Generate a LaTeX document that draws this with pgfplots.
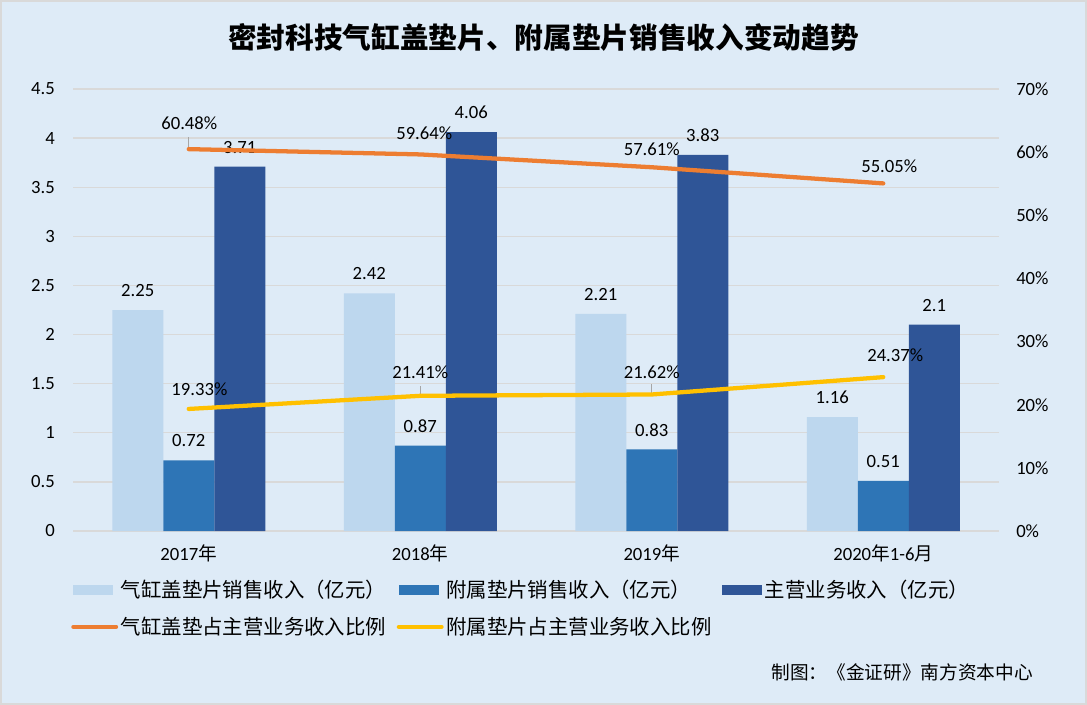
\documentclass[border=0pt]{standalone}
\usepackage{pgfplots}
\pgfplotsset{compat=1.18}
\usepackage{fontspec}
\setmainfont{Carlito}
\newfontfamily\cjk{Noto Sans CJK SC}
\definecolor{bg}{HTML}{DEEBF7}
\definecolor{bd}{HTML}{D9D9D9}
\definecolor{c1}{HTML}{BDD7EE}
\definecolor{c2}{HTML}{2E75B6}
\definecolor{c3}{HTML}{2F5597}
\definecolor{co}{HTML}{ED7D31}
\definecolor{cy}{HTML}{FFC000}
\newcommand\fs{\fontsize{14pt}{16pt}\selectfont}
\pgfplotsset{
  barlegend/.style={legend image code/.code={\fill[##1] (0pt,-3.75pt) rectangle (30pt,3.75pt);}},
  linelegend/.style={legend image code/.code={\draw[##1,line cap=round] (0pt,0pt) -- (32pt,0pt);}},
}
\begin{document}
\begin{tikzpicture}
\path[use as bounding box] (0,0) rectangle (815.25pt,-528.75pt);
\fill[bg] (0,0) rectangle (815.25pt,-528.75pt);
\draw[bd, line width=1.5pt] (0.75pt,-0.75pt) rectangle (814.5pt,-528pt);
\node[font=\cjk\bfseries\fontsize{21.5pt}{24pt}\selectfont] at (407.6pt,-28.5pt) {密封科技气缸盖垫片、附属垫片销售收入变动趋势};
\node[anchor=east, inner sep=0pt, font=\cjk\fontsize{14pt}{16pt}\selectfont] at (774.75pt,-504pt) {制图：《金证研》南方资本中心};

\begin{axis}[at={(54.75pt,-398.25pt)}, anchor=south west,
  width=694.5pt, height=331.5pt, scale only axis,
  xmin=-0.5, xmax=3.5, ymin=0, ymax=4.5,
  ybar=0pt, bar width=38.25pt,
  xtick={0,1,2,3},
  xticklabels={2017{\cjk 年},2018{\cjk 年},2019{\cjk 年},2020{\cjk 年}1-6{\cjk 月}},
  ytick={0,0.5,1,1.5,2,2.5,3,3.5,4,4.5},
  yticklabels={0,0.5,1,1.5,2,2.5,3,3.5,4,4.5},
  ymajorgrids, grid style={bd, line width=1pt},
  axis line style={draw=none}, major tick length=0pt,
  tick label style={font=\fs, text=black},
  yticklabel style={anchor=east, inner sep=0pt, xshift=-13.5pt},
  xticklabel style={anchor=center, inner sep=0pt, yshift=-16.5pt},
  nodes near coords, point meta=explicit symbolic,
  every node near coord/.append style={font=\fs, text=black, anchor=center, yshift=14.6pt, inner sep=0pt},
]
\addplot[fill=c1, draw=none] coordinates {(0,2.25)[2.25] (1,2.42)[2.42] (2,2.21)[2.21] (3,1.16)[1.16]};
\addplot[fill=c2, draw=none] coordinates {(0,0.72)[0.72] (1,0.87)[0.87] (2,0.83)[0.83] (3,0.51)[0.51]};
\addplot[fill=c3, draw=none] coordinates {(0,3.71)[3.71] (1,4.06)[4.06] (2,3.83)[3.83] (3,2.10)[2.1]};
\end{axis}

\begin{axis}[at={(54.75pt,-398.25pt)}, anchor=south west,
  width=694.5pt, height=331.5pt, scale only axis,
  xmin=-0.5, xmax=3.5, ymin=0, ymax=0.7,
  axis y line*=right, axis x line=none,
  ytick={0,0.1,0.2,0.3,0.4,0.5,0.6,0.7},
  yticklabels={0\%,10\%,20\%,30\%,40\%,50\%,60\%,70\%},
  axis line style={draw=none}, major tick length=0pt,
  tick label style={font=\fs, text=black},
  yticklabel style={anchor=west, inner sep=0pt, xshift=12.75pt},
  legend style={at={(axis description cs:0,0)}, anchor=north west,
    xshift=-1.5pt, yshift=-34.6pt, draw=none, fill=none, inner sep=0pt,
    font=\cjk\fontsize{15.3pt}{17pt}\selectfont, text=black,
    nodes={inner sep=2pt}, row sep=9.2pt,
    /tikz/every even column/.append style={column sep=6pt}},
  legend columns=3, legend cell align=left,
]
\addlegendimage{barlegend, fill=c1, draw=none}
\addlegendentry{气缸盖垫片销售收入（亿元）}
\addlegendimage{barlegend, fill=c2, draw=none}
\addlegendentry{附属垫片销售收入（亿元）}
\addlegendimage{barlegend, fill=c3, draw=none}
\addlegendentry{主营业务收入（亿元）}

\addplot[draw=none, mark=none, forget plot,
  error bars/.cd, y dir=plus, y explicit, error mark=none,
  error bar style={draw=black!35, line width=0.75pt}]
  coordinates {(0,0.6048) +- (0,0.019) (1,0.2141) +- (0,0.016) (2,0.2162) +- (0,0.016)};

\addplot[co, line width=3.2pt, line cap=round, line join=round, mark=none, linelegend,
  nodes near coords={\pgfplotspointmeta\%}, point meta=explicit symbolic,
  visualization depends on={\thisrow{dx} \as \dx},
  visualization depends on={\thisrow{dy} \as \dy},
  every node near coord/.append style={font=\fs, text=black, anchor=center, inner sep=0pt, xshift=\dx pt, yshift=\dy pt}]
  table[x=x, y=y, meta=lab] {
x y dx dy lab
0 0.6048 0.4 19.5 60.48
1 0.5964 3 15.75 59.64
2 0.5761 0 13.5 57.61
3 0.5505 4.5 12.75 55.05
};
\addlegendentry{气缸盖垫占主营业务收入比例}
\addplot[cy, line width=3.2pt, line cap=round, line join=round, mark=none, linelegend,
  nodes near coords={\pgfplotspointmeta\%}, point meta=explicit symbolic,
  visualization depends on={\thisrow{dx} \as \dx},
  visualization depends on={\thisrow{dy} \as \dy},
  every node near coord/.append style={font=\fs, text=black, anchor=center, inner sep=0pt, xshift=\dx pt, yshift=\dy pt}]
  table[x=x, y=y, meta=lab] {
x y dx dy lab
0 0.1933 8 15 19.33
1 0.2141 0 17.6 21.41
2 0.2162 0 16.5 21.62
3 0.2437 9 16.5 24.37
};
\addlegendentry{附属垫片占主营业务收入比例}
\end{axis}
\end{tikzpicture}
\end{document}
